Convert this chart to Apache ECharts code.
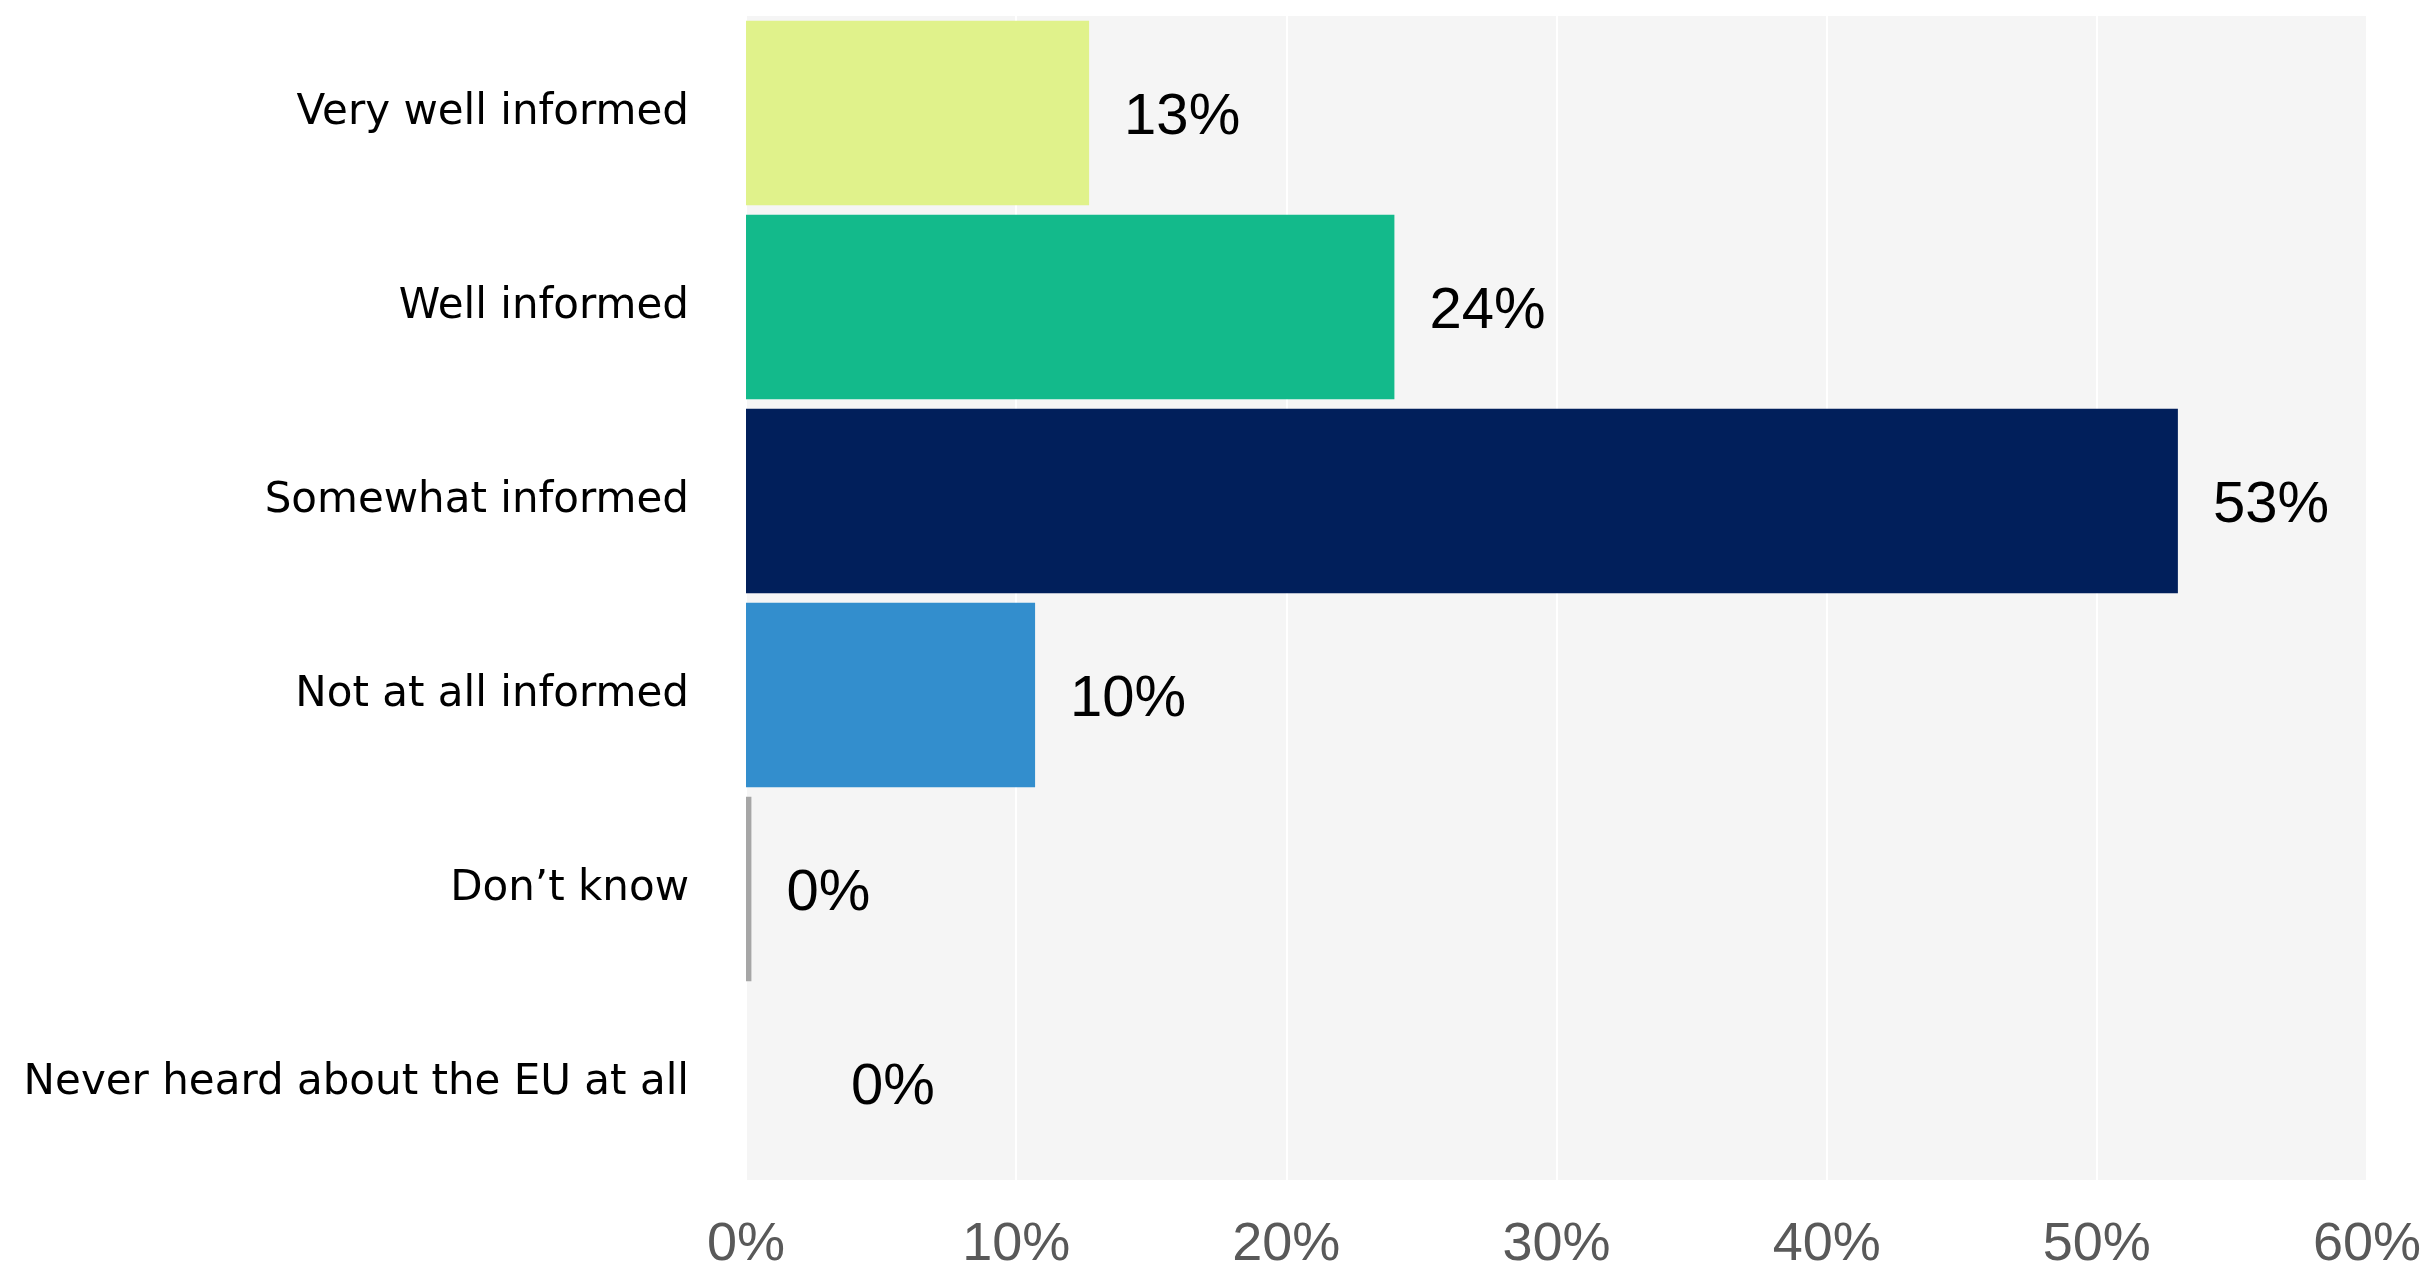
<!DOCTYPE html>
<html>
<head>
<meta charset="utf-8">
<script src="https://cdn.jsdelivr.net/npm/echarts@6/dist/echarts.min.js"></script>
<style>
html,body{margin:0;padding:0;background:#fff;}
#chart{width:2432px;height:1273px;}
</style>
</head>
<body>
<div id="chart"></div>
<script>
const categories = ["Very well informed", "Well informed", "Somewhat informed", "Not at all informed", "Don’t know", "Never heard about the EU at all"];
const values = [12.7, 24.0, 53.0, 10.7, 0.2, 0];
const valueLabels = ["13%", "24%", "53%", "10%", "0%", "0%"];
const barColors = ["#e0f28b", "#13ba8b", "#011f5b", "#338ecd", "#a6a6a6", "#a6a6a6"];
const xTicks = [0, 10, 20, 30, 40, 50, 60];

const chart = echarts.init(document.getElementById('chart'), null, {renderer: 'canvas'});
const data = values.map((v, i) => {
  const item = {value: v, itemStyle: {color: barColors[i]}};
  if (i === 5) item.label = {distance: 105};
  return item;
});
chart.setOption({
  animation: false,
  grid: {left: 746, right: 65, top: 16, bottom: 93, show: true, backgroundColor: '#f5f5f5', borderWidth: 0},
  xAxis: {
    type: 'value', min: xTicks[0], max: xTicks[xTicks.length - 1], interval: 10,
    axisLine: {show: false}, axisTick: {show: false},
    splitLine: {show: true, lineStyle: {color: '#ffffff', width: 2}},
    axisLabel: {formatter: v => v + '%', color: '#595959', fontSize: 54, fontFamily: 'Liberation Sans', margin: 38}
  },
  yAxis: {
    type: 'category', data: categories, inverse: true,
    axisLine: {show: false}, axisTick: {show: false}, splitLine: {show: false},
    axisLabel: {color: '#000', fontSize: 42, fontFamily: 'DejaVu Sans', margin: 57, padding: [4, 0, 0, 0]}
  },
  series: [{
    type: 'bar', data: data, barCategoryGap: '5%',
    label: {
      show: true, position: 'right', distance: 35, offset: [0, 5],
      formatter: p => valueLabels[p.dataIndex],
      color: '#000', fontSize: 58, fontFamily: 'Liberation Sans'
    }
  }]
});
</script>
</body>
</html>
